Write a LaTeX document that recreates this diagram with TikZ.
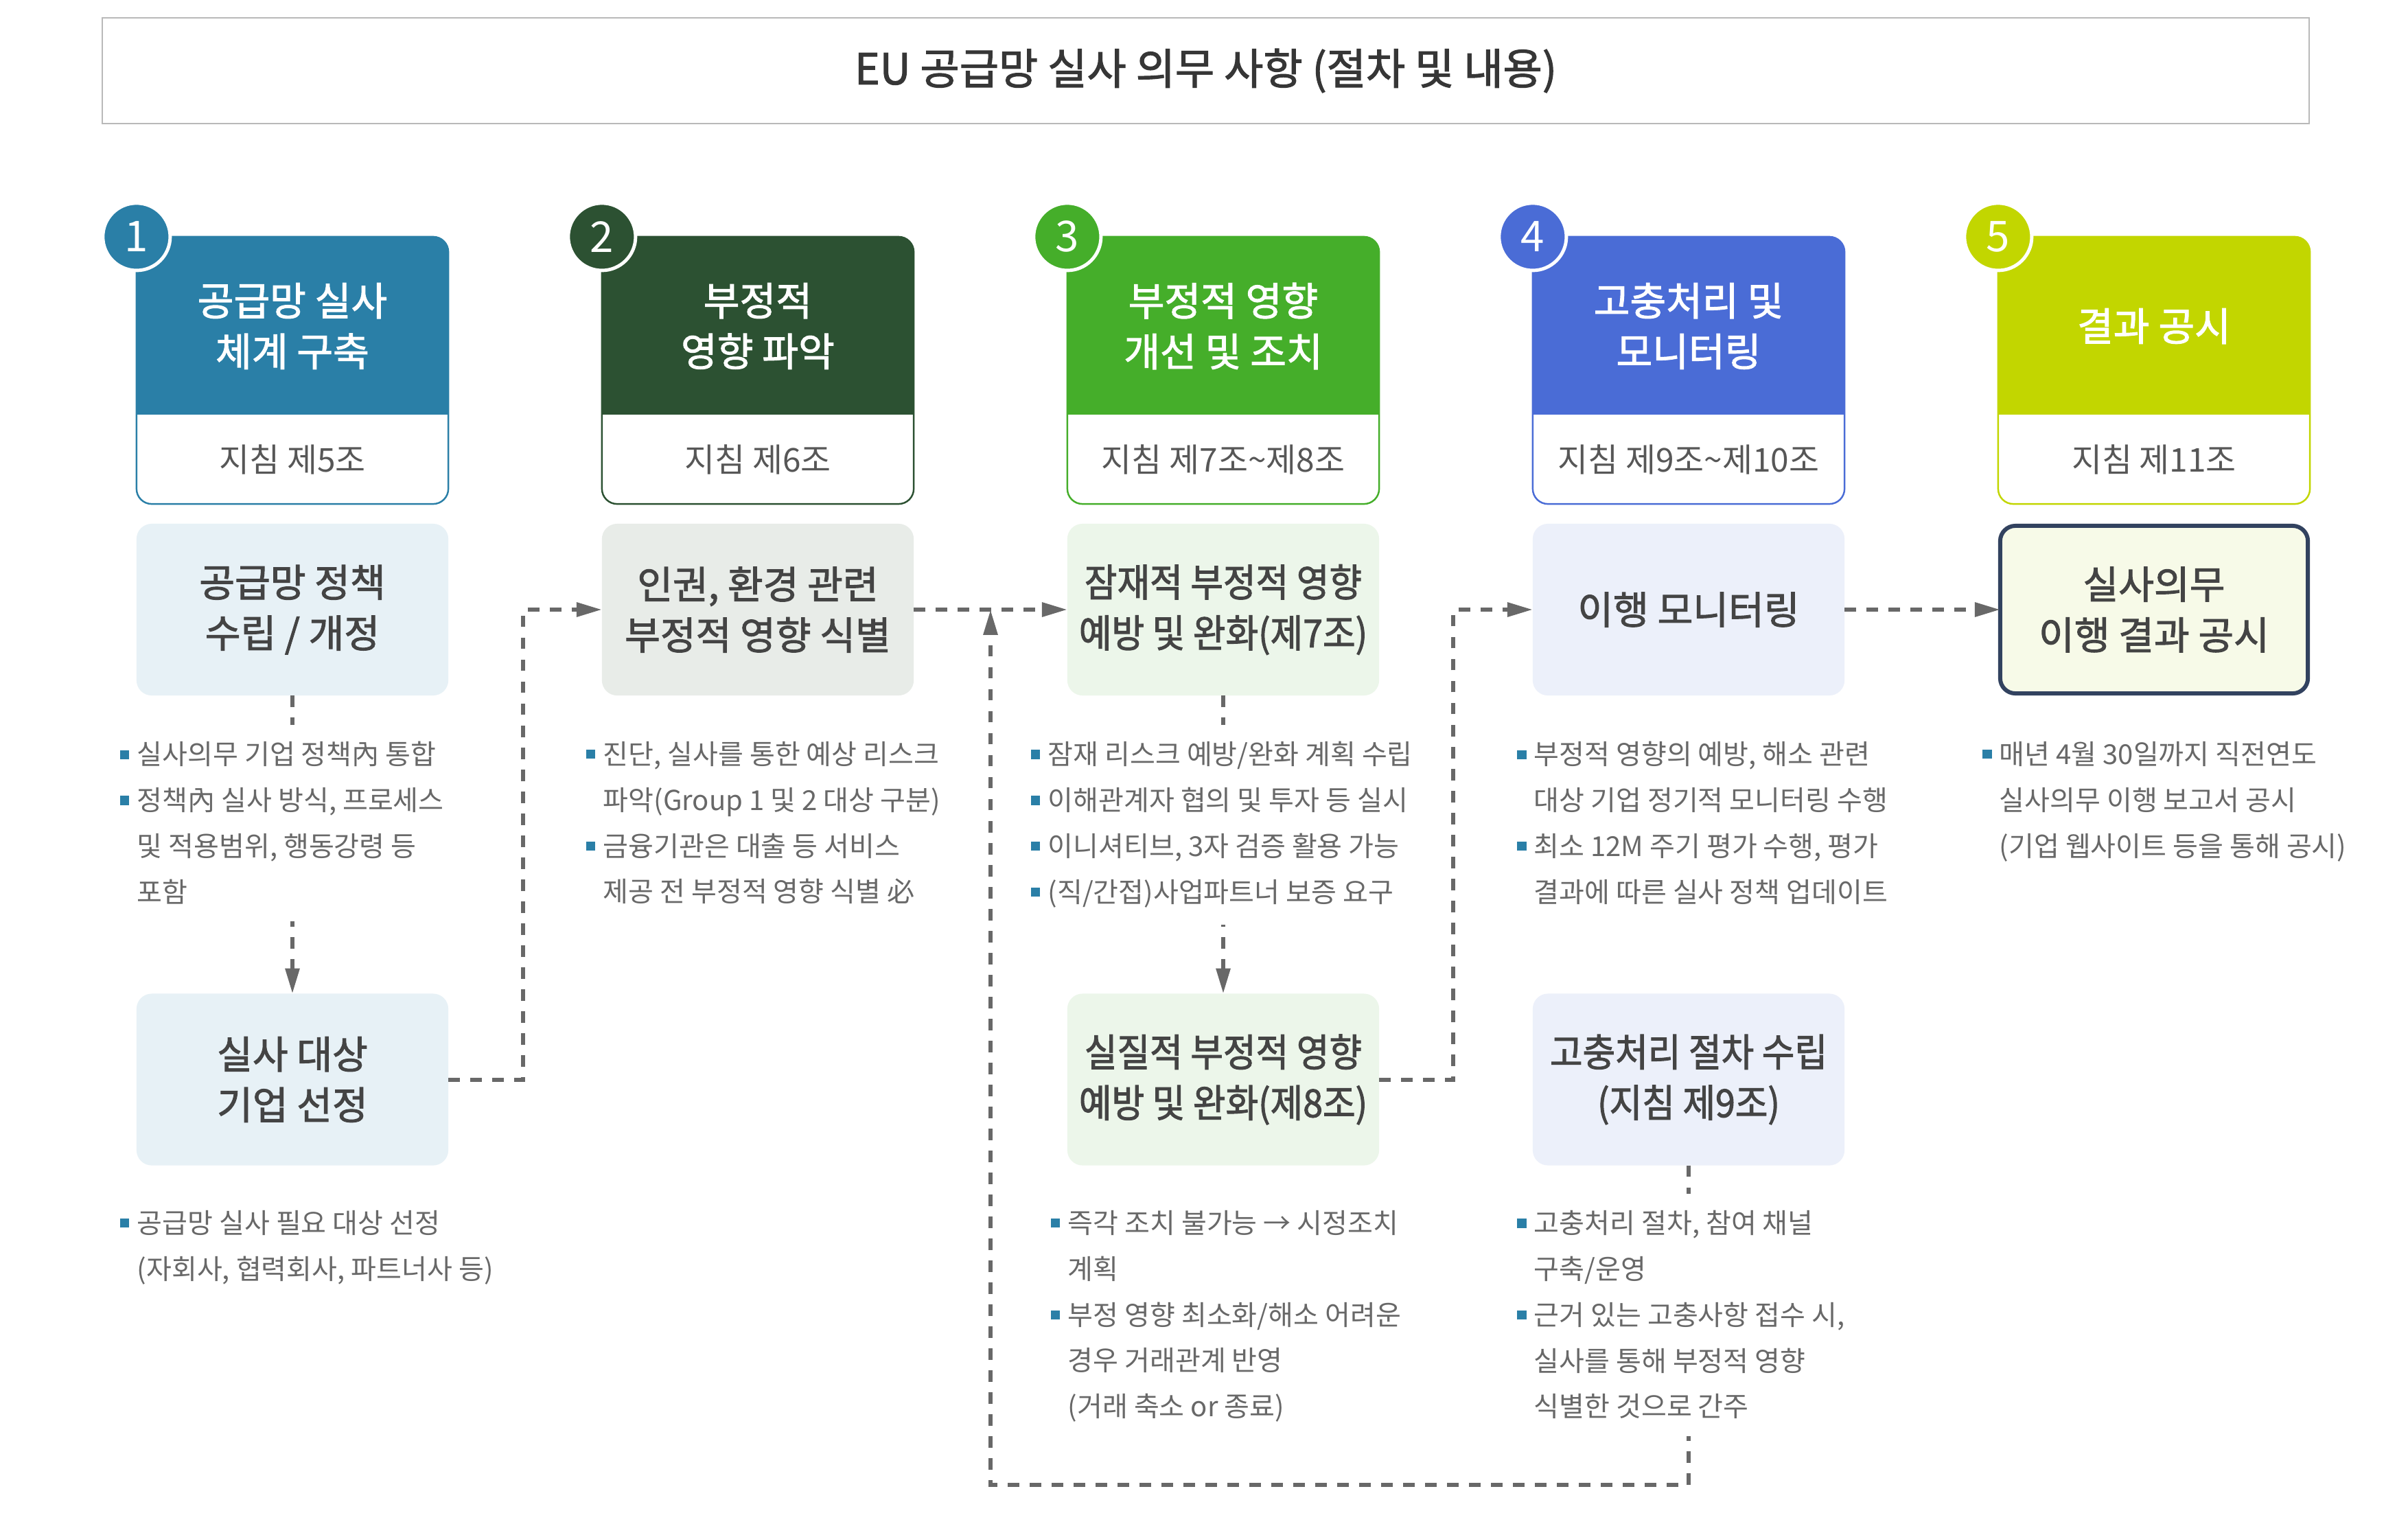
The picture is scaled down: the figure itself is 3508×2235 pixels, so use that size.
\documentclass[tikz,border=0pt]{standalone}
\usepackage{fontspec}
\setmainfont{Noto Sans CJK KR}
\newfontfamily\medfont{Noto Sans CJK KR}[FakeBold=1.8]
\newfontfamily\narrowfont{Noto Sans CJK KR}[FakeBold=1.8, FakeStretch=0.92]
\newfontfamily\litefont{Noto Sans CJK KR}
\usepackage{tikz}
\usetikzlibrary{positioning,arrows.meta,calc}
\definecolor{stepa}{HTML}{2A7FA7}
\definecolor{stepb}{HTML}{2C5132}
\definecolor{stepc}{HTML}{45AE2A}
\definecolor{stepd}{HTML}{4A6CD6}
\definecolor{stepe}{HTML}{C2D600}
\definecolor{tinta}{HTML}{E7F1F6}
\definecolor{tintb}{HTML}{E8ECE8}
\definecolor{tintc}{HTML}{ECF6EA}
\definecolor{tintd}{HTML}{ECF0FA}
\definecolor{tinte}{HTML}{F7FAE8}
\definecolor{navy}{HTML}{32425F}
\definecolor{ink}{HTML}{444444}
\definecolor{soft}{HTML}{686868}
\newcommand{\bul}{\leavevmode\llap{\textcolor{stepa}{\rule[0.2em]{0.33em}{0.33em}}\hspace{0.28em}}}

\begin{document}
\begin{tikzpicture}[
  x=0.01cm, y=-0.01cm, >={Triangle[length=10.5pt,width=5.7pt]},
  hdr/.style={draw=#1, fill=white, line width=0.7pt, rounded corners=6.3pt,
              minimum width=4.54cm, minimum height=3.89cm, outer sep=0pt},
  band/.style={text=white, align=center, font=\medfont\fontsize{16.3pt}{21pt}\selectfont},
  art/.style={text=ink!90, font=\fontsize{13.6pt}{16pt}\selectfont},
  badge/.style={circle, fill=#1, draw=white, line width=1.4pt, minimum size=0.98cm,
                inner sep=0pt, text=white, font=\fontsize{17.6pt}{20pt}\selectfont},
  task/.style={fill=#1, rounded corners=6.3pt, minimum width=4.54cm, minimum height=2.5cm,
               inner xsep=1pt, outer sep=0pt, align=center, text=ink,
               font=\medfont\fontsize{16pt}{21pt}\selectfont},
  narrow/.style={font=\narrowfont\fontsize{16pt}{21pt}\selectfont},
  flow/.style={->, draw=soft, line width=1.7pt, dash pattern=on 4.8pt off 4.3pt},
  note/.style={anchor=north west, fill=white, align=left, inner xsep=0pt, inner ysep=7pt,
               text=soft, font=\litefont\fontsize{11.4pt}{19pt}\selectfont},
]
\useasboundingbox (0,0) rectangle (3508,2235);
\fill[white] (0,0) rectangle (3508,2235);
% -- title bar
\node[draw=gray!55, line width=0.8pt, minimum width=32.13cm, minimum height=1.54cm,
      text=ink!80!black, font=\medfont\fontsize{17.7pt}{20pt}\selectfont] (title) at (1756.5,103)
  {EU 공급망 실사 의무 사항 (절차 및 내용)};
% -- step headers
\node[hdr=stepa] (h1) at (426,539.5) {};
\node[hdr=stepb] (h2) at (1104,539.5) {};
\node[hdr=stepc] (h3) at (1782,539.5) {};
\node[hdr=stepd] (h4) at (2460,539.5) {};
\node[hdr=stepe] (h5) at (3138,539.5) {};
\foreach \i/\c in {1/stepa,2/stepb,3/stepc,4/stepd,5/stepe}{
  \begin{scope}
    \clip ($(h\i.north west)+(-5,-5)$) rectangle ($(h\i.north east)+(5,259)$);
    \fill[\c, rounded corners=6.3pt] (h\i.north west) rectangle (h\i.south east);
  \end{scope}
  \node[badge=\c] (n\i) at (h\i.north west) {\i};
}
\node[band] (t1) at (426,475) {공급망 실사\\체계 구축};
\node[band] (t2) at (1104,475) {부정적\\영향 파악};
\node[band] (t3) at (1782,475) {부정적 영향\\개선 및 조치};
\node[band] (t4) at (2460,475) {고충처리 및\\모니터링};
\node[band] (t5) at (3138,475) {결과 공시};
\node[art] (s1) at (426,669) {지침 제5조};
\node[art] (s2) at (1104,669) {지침 제6조};
\node[art] (s3) at (1782,669) {지침 제7조\textasciitilde 제8조};
\node[art] (s4) at (2460,669) {지침 제9조\textasciitilde 제10조};
\node[art] (s5) at (3138,669) {지침 제11조};
% -- tasks, first row
\node[task=tinta] (p1) at (426,888) {공급망 정책\\수립 / 개정};
\node[task=tintb] (p2) at (1104,888) {인권, 환경 관련\\부정적 영향 식별};
\node[task=tintc, narrow] (p3) at (1782,888) {잠재적 부정적 영향\\예방 및 완화(제7조)};
\node[task=tintd] (p4) at (2460,888) {이행 모니터링};
\node[task=tinte, draw=navy, line width=1.7pt, minimum width=4.48cm, minimum height=2.44cm]
  (p5) at (3138,888) {실사의무\\이행 결과 공시};
% -- tasks, second row
\node[task=tinta] (q1) at (426,1572.5) {실사 대상\\기업 선정};
\node[task=tintc, narrow] (q3) at (1782,1572.5) {실질적 부정적 영향\\예방 및 완화(제8조)};
\node[task=tintd, narrow] (q4) at (2460,1572.5) {고충처리 절차 수립\\(지침 제9조)};
% -- flows
\coordinate (m23) at ($(p2.east)!0.5!(p3.west)$);
\draw[flow] (p1) -- (q1);
\draw[flow] (q1.east) -- ++(109,0) |- (p2.west);
\draw[flow] (p2) -- (p3);
\draw[flow] (p3) -- (q3);
\draw[flow] (q3.east) -- ++(108,0) |- (p4.west);
\draw[flow] (p4) -- (p5);
\draw[flow] (q4.south) -- ++(0,465) -| (m23);
% -- notes
\node[note] (b1) at (199,1055) {\bul 실사의무 기업 정책內 통합\\\bul 정책內 실사 방식, 프로세스\\및 적용범위, 행동강령 등\\포함};
\node[note] (b2) at (878,1055) {\bul 진단, 실사를 통한 예상 리스크\\파악(Group 1 및 2 대상 구분)\\\bul 금융기관은 대출 등 서비스\\제공 전 부정적 영향 식별 必};
\node[note] (b3) at (1526,1055) {\bul 잠재 리스크 예방/완화 계획 수립\\\bul 이해관계자 협의 및 투자 등 실시\\\bul 이니셔티브, 3자 검증 활용 가능\\\bul (직/간접)사업파트너 보증 요구};
\node[note] (b4) at (2234,1055) {\bul 부정적 영향의 예방, 해소 관련\\대상 기업 정기적 모니터링 수행\\\bul 최소 12M 주기 평가 수행, 평가\\결과에 따른 실사 정책 업데이트};
\node[note] (b5) at (2912,1055) {\bul 매년 4월 30일까지 직전연도\\실사의무 이행 보고서 공시\\(기업 웹사이트 등을 통해 공시)};
\node[note] (c1) at (199,1738) {\bul 공급망 실사 필요 대상 선정\\(자회사, 협력회사, 파트너사 등)};
\node[note] (c3) at (1555,1738) {\bul 즉각 조치 불가능 → 시정조치\\계획\\\bul 부정 영향 최소화/해소 어려운\\경우 거래관계 반영\\(거래 축소 or 종료)};
\node[note] (c4) at (2234,1738) {\bul 고충처리 절차, 참여 채널\\구축/운영\\\bul 근거 있는 고충사항 접수 시,\\실사를 통해 부정적 영향\\식별한 것으로 간주};
\end{tikzpicture}
\end{document}
